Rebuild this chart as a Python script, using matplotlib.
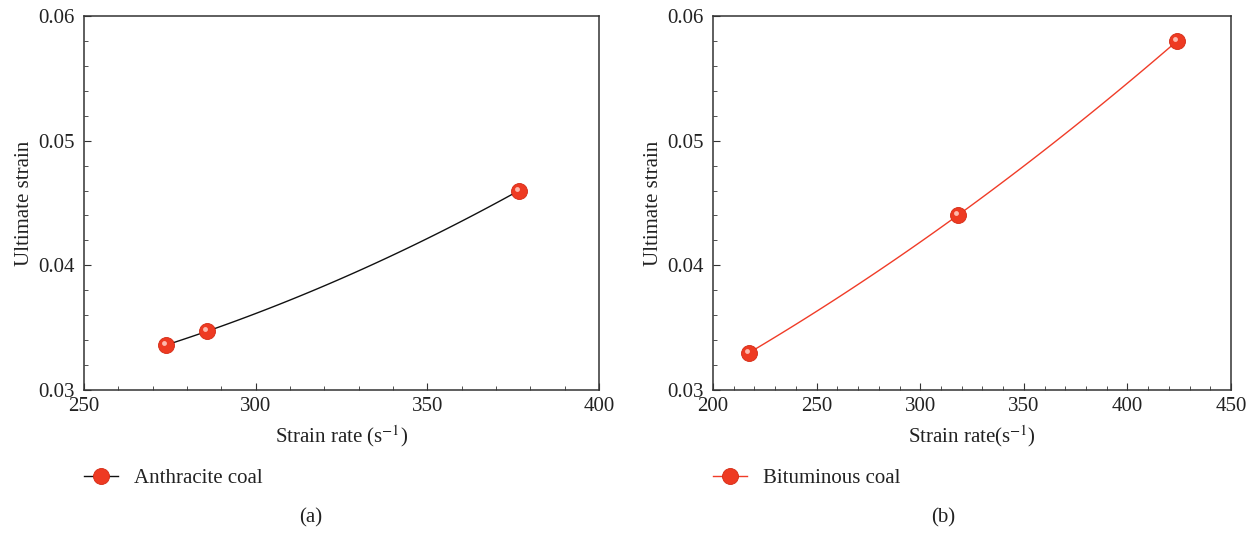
import numpy as np
import matplotlib
matplotlib.use("Agg")
import matplotlib.pyplot as plt
from matplotlib.ticker import MultipleLocator, FormatStrFormatter
from matplotlib.transforms import offset_copy

plt.rcParams['font.family'] = ['Liberation Serif', 'DejaVu Serif']
plt.rcParams['mathtext.fontset'] = 'stix'

anthracite_rate = [273.8, 285.7, 376.7]
anthracite_strain = [0.0336, 0.0347, 0.0460]

bituminous_rate = [217.5, 318.0, 424.0]
bituminous_strain = [0.0330, 0.0440, 0.0580]

marker_red = '#ee3a22'

fig = plt.figure(figsize=(12.58, 5.35), dpi=100)
ax1 = fig.add_axes([0.0668, 0.271, 0.4094, 0.6991])
ax2 = fig.add_axes([0.5668, 0.271, 0.4118, 0.6991])


def smooth(x, y):
    # quadratic through the three points, only for a smooth connecting line
    c = np.polyfit(x, y, 2)
    xs = np.linspace(min(x), max(x), 100)
    return xs, np.polyval(c, xs)


def draw(ax, x, y, line_color, label, xlim, xlabel):
    xs, ys = smooth(x, y)
    ax.plot(xs, ys, color=line_color, linewidth=1.0, zorder=2)
    ax.plot(x, y, linestyle='none', marker='o', ms=11.5, mfc=marker_red,
            mec='#d42a14', mew=0.6, zorder=3)
    # little specular highlight, up-left of centre
    hl = offset_copy(ax.transData, fig=fig, x=-2, y=2, units='dots')
    ax.plot(x, y, linestyle='none', marker='o', ms=3.5, mfc='#ffc8bd',
            mec='none', alpha=0.9, transform=hl, zorder=4)
    ax.plot([], [], color=line_color, linewidth=1.0, marker='o', ms=11.5,
            mfc=marker_red, mec='#d42a14', mew=0.6, label=label)
    ax.set_xlim(*xlim)
    ax.set_ylim(0.03, 0.06)
    ax.xaxis.set_major_locator(MultipleLocator(50))
    ax.xaxis.set_minor_locator(MultipleLocator(10))
    ax.yaxis.set_major_locator(MultipleLocator(0.01))
    ax.yaxis.set_minor_locator(MultipleLocator(0.002))
    ax.yaxis.set_major_formatter(FormatStrFormatter('%.2f'))
    ax.tick_params(which='both', direction='in', labelsize=15, color='#333333',
                   labelcolor='#222222')
    ax.tick_params(axis='x', which='both', pad=5)
    ax.tick_params(axis='y', which='both', pad=7)
    ax.tick_params(which='major', length=5)
    ax.tick_params(which='minor', length=3)
    for s in ax.spines.values():
        s.set_color('#333333')
        s.set_linewidth(1.1)
    ax.set_xlabel(xlabel, fontsize=15, labelpad=5, color='#222222')
    ax.set_ylabel('Ultimate strain', fontsize=15, labelpad=3, color='#222222')
    ax.legend(loc='center left', bbox_to_anchor=(0.0, -0.236), frameon=False,
              fontsize=15, handlelength=1.65, handletextpad=0.75,
              borderpad=0, borderaxespad=0, labelcolor='#222222')


draw(ax1, anthracite_rate, anthracite_strain, '#111111', 'Anthracite coal',
     (250, 400), r'Strain rate (s$^{-1}$)')
draw(ax2, bituminous_rate, bituminous_strain, '#f03c28', 'Bituminous coal',
     (200, 450), r'Strain rate(s$^{-1}$)')

fig.text(0.247, 0.032, '(a)', ha='center', va='center', fontsize=15,
         color='#222222')
fig.text(0.750, 0.032, '(b)', ha='center', va='center', fontsize=15,
         color='#222222')

fig.savefig('out.png', dpi=100)
